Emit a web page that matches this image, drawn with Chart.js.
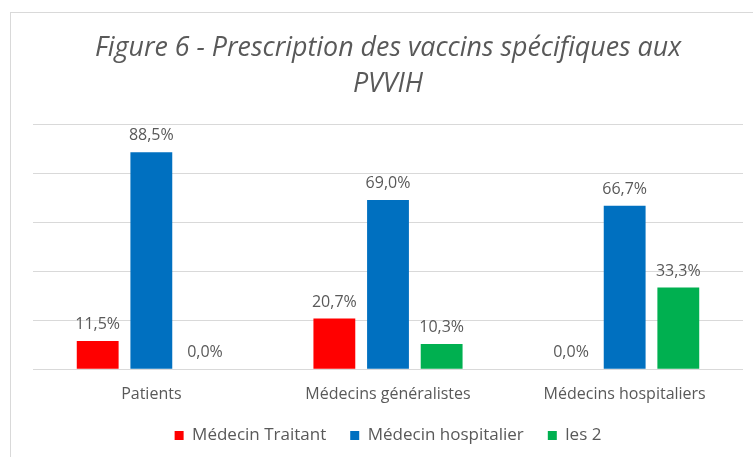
<!DOCTYPE html>
<html>
<head>
<meta charset="utf-8">
<script src="https://cdn.jsdelivr.net/npm/chart.js@4.4.1/dist/chart.umd.min.js"></script>
<style>
  html, body { margin: 0; padding: 0; background: #fff; }
  #wrap { position: relative; width: 753px; height: 457px; }
  #frame { position: absolute; left: 10px; top: 12px; width: 760px; height: 460px; border: 1px solid #d9d9d9; box-sizing: border-box; }
  canvas { position: absolute; left: 0; top: 0; }
</style>
</head>
<body>
<div id="wrap">
  <div id="frame"></div>
  <canvas id="chart" width="753" height="457"></canvas>
</div>
<script>
// Chart data
const categories = ['Patients', 'Médecins généralistes', 'Médecins hospitaliers'];
const medecinTraitant = [11.5, 20.7, 0.0];
const medecinHospitalier = [88.5, 69.0, 66.7];
const les2 = [0.0, 10.3, 33.3];
const seriesNames = ['Médecin Traitant', 'Médecin hospitalier', 'les 2'];
const seriesColors = ['#ff0000', '#0070c0', '#00b050'];

const textGray = '#595959';
const fontFamily = "'Open Sans', 'Liberation Sans', sans-serif";

// Draw the percentage above each bar
const valueLabels = {
  id: 'valueLabels',
  afterDatasetsDraw(chart) {
    const ctx = chart.ctx;
    ctx.save();
    ctx.font = '16px ' + fontFamily;
    ctx.fillStyle = textGray;
    ctx.textAlign = 'center';
    ctx.textBaseline = 'middle';
    chart.data.datasets.forEach((ds, i) => {
      chart.getDatasetMeta(i).data.forEach((bar, j) => {
        const txt = ds.data[j].toFixed(1).replace('.', ',') + '%';
        ctx.fillText(txt, bar.x, bar.y - 16.5);
      });
    });
    ctx.restore();
  }
};

let ctx = document.getElementById('chart').getContext('2d');
let myChart = new Chart(ctx, {
  type: 'bar',
  data: {
    labels: categories,
    datasets: [
      { label: seriesNames[0], data: medecinTraitant, backgroundColor: seriesColors[0] },
      { label: seriesNames[1], data: medecinHospitalier, backgroundColor: seriesColors[1] },
      { label: seriesNames[2], data: les2, backgroundColor: seriesColors[2] }
    ]
  },
  options: {
    responsive: false,
    animation: false,
    devicePixelRatio: 1,
    layout: { padding: { left: 33, right: 10, top: 0, bottom: 3 } },
    datasets: {
      bar: { categoryPercentage: 0.68, barPercentage: 0.78 }
    },
    scales: {
      x: {
        grid: { display: false, tickLength: 16.25 },
        border: { display: false },
        ticks: { color: textGray, font: { family: fontFamily, size: 16, lineHeight: 1.0 }, padding: 0.75 }
      },
      y: {
        min: 0,
        max: 100,
        ticks: { display: false, stepSize: 20 },
        border: { display: false },
        grid: { color: '#d9d9d9', lineWidth: 1, drawTicks: false }
      }
    },
    plugins: {
      title: {
        display: true,
        text: ['Figure 6 - Prescription des vaccins spécifiques aux', 'PVVIH'],
        color: textGray,
        font: { family: fontFamily, size: 26.8, style: 'italic', weight: 'normal', lineHeight: 1.345 },
        padding: { top: 30, bottom: 22 }
      },
      legend: {
        position: 'bottom',
        labels: {
          usePointStyle: true,
          pointStyle: 'rect',
          boxWidth: 9,
          boxHeight: 9,
          color: textGray,
          font: { family: fontFamily, size: 17 },
          padding: 24
        }
      },
      tooltip: { enabled: false }
    }
  },
  plugins: [valueLabels]
});
</script>
</body>
</html>
